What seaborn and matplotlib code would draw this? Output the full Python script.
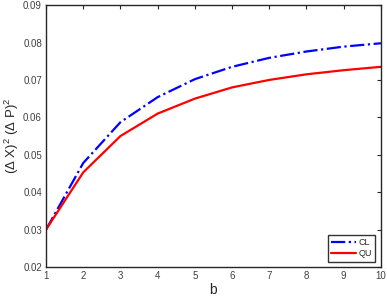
import numpy as np
import pandas as pd
import seaborn as sns
import matplotlib.pyplot as plt

b = [1, 2, 3, 4, 5, 6, 7, 8, 9, 10]
cl = [0.0300, 0.0478, 0.0587, 0.0654, 0.0702, 0.0735, 0.0759, 0.0776, 0.0789, 0.0798]
qu = [0.0300, 0.0453, 0.0550, 0.0610, 0.0650, 0.0680, 0.0700, 0.0715, 0.0726, 0.0735]

sns.set_style("white")
plt.rcParams['font.family'] = ['Liberation Sans', 'DejaVu Sans']
plt.rcParams['mathtext.fontset'] = 'custom'
plt.rcParams['mathtext.rm'] = 'Liberation Sans'

df = pd.DataFrame({"b": b, "CL": cl, "QU": qu})

fig = plt.figure(figsize=(3.87, 3.0), dpi=100)
ax = fig.add_axes([0.119, 0.11, 0.865, 0.873])

sns.lineplot(data=df, x="b", y="CL", ax=ax, color="#0000ff", linestyle="-.",
             linewidth=1.6, label="CL")
sns.lineplot(data=df, x="b", y="QU", ax=ax, color="#ff0000", linestyle="-",
             linewidth=1.6, label="QU")

ax.set_xlim(1, 10)
ax.set_ylim(0.02, 0.09)
ax.set_xticks(range(1, 11))
ax.set_yticks(np.arange(0.02, 0.0901, 0.01))
ax.set_yticklabels([f"{v:.2f}" for v in np.arange(0.02, 0.0901, 0.01)])

dark = "#262626"
for s in ax.spines.values():
    s.set_color(dark)
    s.set_linewidth(1.0)
ax.tick_params(direction="in", length=3, width=0.8, colors=dark,
               labelsize=7, labelcolor="#404040", top=True, right=True, pad=3)

ax.set_xlabel("b", fontsize=10, color=dark, labelpad=1)
ax.set_ylabel(r"(Δ X)$^2$ (Δ P)$^2$", fontsize=9.5, color=dark)
ax.yaxis.set_label_coords(-0.075, 0.5)

leg = ax.legend(loc="lower right", fontsize=6.5, frameon=True, fancybox=False,
                handlelength=2.8, handletextpad=0.3, borderpad=0.35,
                labelspacing=0.25, borderaxespad=0.6)
leg.get_frame().set_edgecolor("black")
leg.get_frame().set_linewidth(1.0)

fig.savefig("out.png", dpi=100)
